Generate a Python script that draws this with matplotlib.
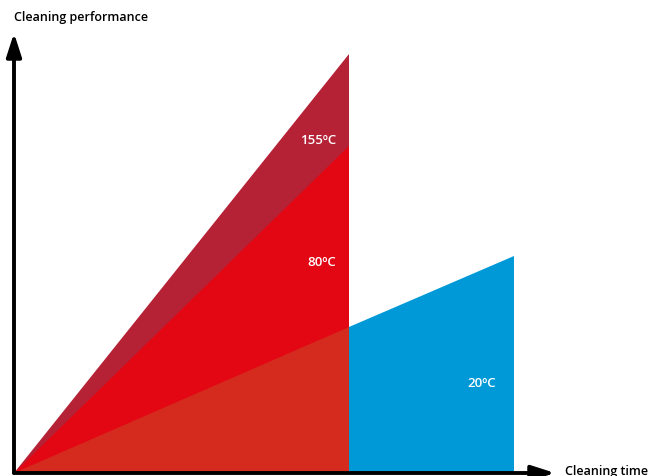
import matplotlib.pyplot as plt
import numpy as np

# chart values (time, performance)
t_end_hot = 335
t_end_cold = 500
perf_155 = 419
perf_80 = 327
perf_20_mid = 146
perf_20_end = 217

labels = ["155ºC", "80ºC", "20ºC"]

c_155 = "#b52236"
c_80 = "#e30613"
c_overlap = "#d52b1e"
c_20 = "#0099d8"

plt.rcParams['font.family'] = ['Open Sans', 'DejaVu Sans']

fig = plt.figure(figsize=(6.49, 4.77), dpi=100)
ax = fig.add_axes([14 / 649, 3 / 477, 541 / 649, 440 / 477])
ax.set_xlim(0, 541)
ax.set_ylim(0, 440)
ax.axis("off")

# 155 deg triangle
ax.fill([0, t_end_hot, t_end_hot], [0, perf_155, 0], color=c_155, lw=0)
# 80 deg triangle
ax.fill([0, t_end_hot, t_end_hot], [0, perf_80, 0], color=c_80, lw=0)
# 20 deg part under the hot ones
ax.fill([0, t_end_hot, t_end_hot], [0, perf_20_mid, 0], color=c_overlap, lw=0)
# 20 deg part beyond
ax.fill([t_end_hot, t_end_cold, t_end_cold, t_end_hot],
        [perf_20_mid, perf_20_end, 0, 0], color=c_20, lw=0)

# axes arrows
arrow = dict(arrowstyle="-|>,head_length=1.4,head_width=0.45",
             color="black", lw=2.8, shrinkA=0, shrinkB=0)
ax.annotate("", xy=(0, 1.0), xytext=(0, 0), xycoords="axes fraction",
            arrowprops=arrow, annotation_clip=False)
ax.annotate("", xy=(1.0, 0), xytext=(0, 0), xycoords="axes fraction",
            arrowprops=arrow, annotation_clip=False)

fig.text(14 / 649, 1 - 18 / 477, "Cleaning performance", fontsize=9,
         fontweight="semibold", va="center", ha="left")
fig.text(565 / 649, 1 - 472 / 477, "Cleaning time", fontsize=9,
         fontweight="semibold", va="center", ha="left")

ax.text(304, 474 - 141, labels[0], color="white", fontsize=9.5,
        fontweight="semibold", ha="center", va="center")
ax.text(308, 474 - 262, labels[1], color="white", fontsize=9.5,
        fontweight="semibold", ha="center", va="center")
ax.text(468, 474 - 384, labels[2], color="white", fontsize=9.5,
        fontweight="semibold", ha="center", va="center")

fig.savefig("out.png", dpi=100)
